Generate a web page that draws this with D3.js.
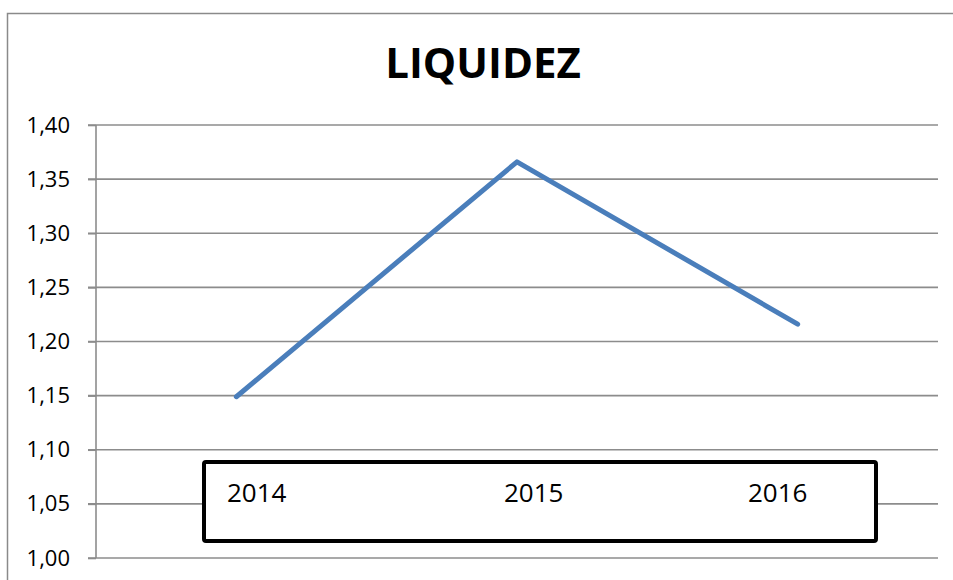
<!DOCTYPE html>
<html>
<head>
<meta charset="utf-8">
<script src="https://cdn.jsdelivr.net/npm/d3@7"></script>
<style>
  html, body { margin: 0; padding: 0; background: #fff; overflow: hidden; }
  svg { display: block; font-family: "Open Sans", "Noto Sans", sans-serif; }
</style>
</head>
<body>
<div id="chart"></div>
<script>
// data
const years = ['2014', '2015', '2016'];
const liquidez = [1.149, 1.366, 1.216];
const yTicks = [1.00, 1.05, 1.10, 1.15, 1.20, 1.25, 1.30, 1.35, 1.40];

const width = 953;
const height = 580;
const plot = { left: 96, right: 938, top: 125, bottom: 558 };

const svg = d3.select('#chart')
    .append('svg')
    .attr('width', width)
    .attr('height', height);

// outer chart border: only the left and top edges fall inside the page
svg.append('path')
    .attr('d', `M7.5,${height}V13.5H${width}`)
    .attr('fill', 'none')
    .attr('stroke', '#8a8a8a')
    .attr('stroke-width', 1.5);

const x = d3.scaleBand()
    .domain(years)
    .range([plot.left, plot.right]);

const y = d3.scaleLinear()
    .domain([1.00, 1.40])
    .range([plot.bottom, plot.top]);

// gridlines
svg.append('g')
    .selectAll('line')
    .data(yTicks)
    .join('line')
    .attr('x1', plot.left - 8)
    .attr('x2', plot.right)
    .attr('y1', d => y(d))
    .attr('y2', d => y(d))
    .attr('stroke', '#8c8c8c')
    .attr('stroke-width', 1.6);

// y axis
const yAxis = d3.axisLeft(y)
    .tickValues(yTicks)
    .tickSize(8)
    .tickPadding(18)
    .tickFormat(d => d3.format('.2f')(d).replace('.', ','));

svg.append('g')
    .attr('transform', `translate(${plot.left},0)`)
    .call(yAxis)
    .call(g => g.select('.domain').attr('stroke', '#8c8c8c').attr('stroke-width', 1.6)
        .attr('d', `M0,${plot.top}V${plot.bottom}`))
    .call(g => g.selectAll('.tick line').attr('stroke', '#8c8c8c').attr('stroke-width', 1.6))
    .call(g => g.selectAll('.tick text')
        .attr('fill', '#000')
        .style('font-size', '22px')
        .style('font-family', '"Open Sans", "Noto Sans", sans-serif'));

// series line
const line = d3.line()
    .x((d, i) => x(years[i]) + x.bandwidth() / 2)
    .y(d => y(d));

svg.append('path')
    .datum(liquidez)
    .attr('d', line)
    .attr('fill', 'none')
    .attr('stroke', '#4a7ebb')
    .attr('stroke-width', 5)
    .attr('stroke-linecap', 'round')
    .attr('stroke-linejoin', 'round');

// title
svg.append('text')
    .attr('x', 483)
    .attr('y', 78)
    .attr('text-anchor', 'middle')
    .style('font-size', '42px')
    .style('font-weight', 'bold')
    .text('LIQUIDEZ');

// text box with the category labels
svg.append('rect')
    .attr('x', 204)
    .attr('y', 462)
    .attr('width', 672)
    .attr('height', 79)
    .attr('rx', 2)
    .attr('fill', '#fff')
    .attr('stroke', '#000')
    .attr('stroke-width', 4);

const tabStops = d3.scaleOrdinal()
    .domain(years)
    .range([227, 504, 748]);

svg.append('g')
    .selectAll('text')
    .data(years)
    .join('text')
    .attr('x', d => tabStops(d))
    .attr('y', 502)
    .style('font-size', '26px')
    .text(d => d);
</script>
</body>
</html>
